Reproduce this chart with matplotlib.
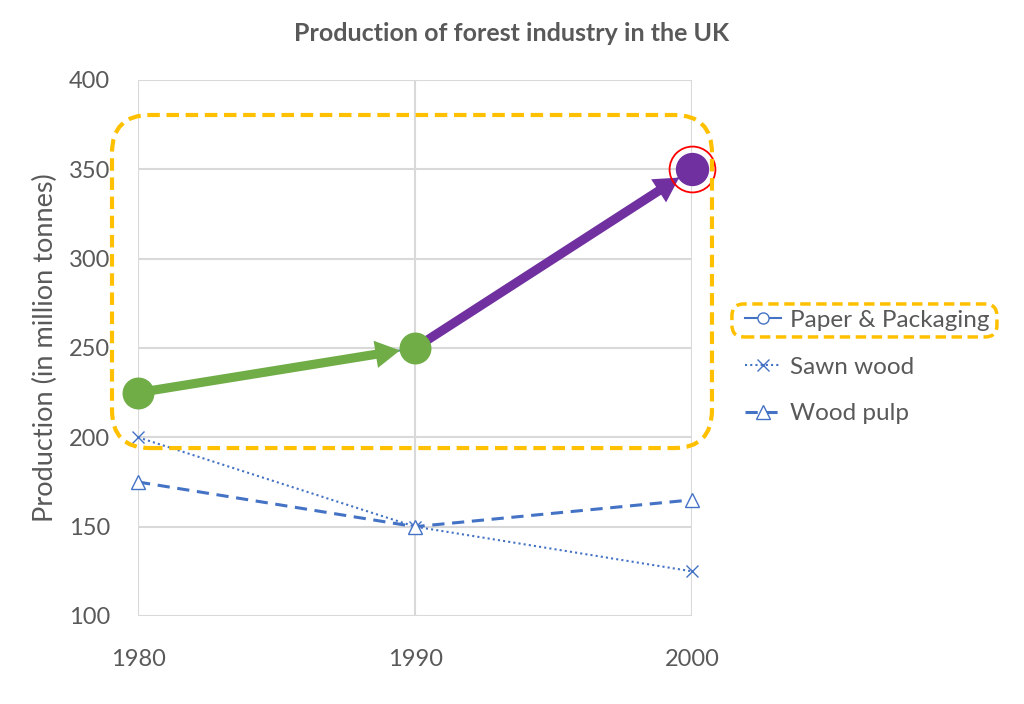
import matplotlib.pyplot as plt
from matplotlib.patches import FancyBboxPatch, FancyArrowPatch
from matplotlib.transforms import IdentityTransform

plt.rcParams['font.family'] = ['Lato', 'DejaVu Sans']

years = [1980, 1990, 2000]
paper = [225, 250, 350]
sawn = [200, 150, 125]
pulp = [175, 150, 165]
labels = ['Paper & Packaging', 'Sawn wood', 'Wood pulp']

blue = '#4472C4'
green = '#70AD47'
purple = '#7030A0'
gold = '#FFC000'
gray = '#595959'

fig = plt.figure(figsize=(10.24, 7.04), dpi=100)
ax = fig.add_axes([0.1348, 0.125, 0.541, 0.7614])

ax.plot(years, paper, color=blue, lw=1.5, marker='o', ms=8, mfc='white', mec=blue,
        label=labels[0], clip_on=False)
ax.plot(years, sawn, color=blue, lw=1.5, ls=(0, (1, 1.5)), marker='x', ms=9,
        label=labels[1], clip_on=False)
ax.plot(years, pulp, color=blue, lw=2.2, ls=(0, (4, 2.5)), marker='^', ms=10, mfc='white', mec=blue,
        markeredgewidth=1, label=labels[2], clip_on=False)

ax.set_xlim(1980, 2000)
ax.set_ylim(100, 400)
ax.set_xticks(years)
ax.set_yticks(range(100, 401, 50))
ax.grid(True, color='#D9D9D9', lw=1.5)
ax.set_axisbelow(True)
for s in ax.spines.values():
    s.set_visible(False)
ax.tick_params(length=0, labelsize=17, labelcolor=gray)
ax.tick_params(axis='x', pad=24)
ax.tick_params(axis='y', pad=20)
ax.set_ylabel('Production (in million tonnes)', fontsize=19.5, color=gray, labelpad=8)

fig.text(0.5, 0.953, 'Production of forest industry in the UK', ha='center', va='center',
         fontsize=18, fontweight='bold', color=gray)

# highlight arrows over paper & packaging
arrow_style = 'simple,head_length=0.8,head_width=0.9,tail_width=0.3'
for i, col in [(0, green), (1, purple)]:
    a = FancyArrowPatch((years[i], paper[i]), (years[i + 1], paper[i + 1]),
                        arrowstyle=arrow_style, mutation_scale=22, color=col, lw=0,
                        shrinkA=0, shrinkB=11, zorder=5, clip_on=False)
    ax.add_patch(a)
ax.plot(years[:2], paper[:2], ls='none', marker='o', ms=22, color=green, zorder=6, clip_on=False)
ax.plot(years[2:], paper[2:], ls='none', marker='o', ms=23, color=purple, zorder=6, clip_on=False)
ax.plot(years[2:], paper[2:], ls='none', marker='o', ms=33, mfc='none', mec='red', mew=1.3,
        zorder=7, clip_on=False)

leg = ax.legend(loc='center left', bbox_to_anchor=(0.728, 0.4787), bbox_transform=fig.transFigure,
                frameon=False, fontsize=17.5, labelcolor=gray, handlelength=1.45, handletextpad=0.4,
                labelspacing=1.05, borderpad=0, borderaxespad=0)

fig.canvas.draw()

# dashed box around the paper series in the plot
p0 = ax.transData.transform((1979.06, 194))
p1 = ax.transData.transform((2000.72, 380.4))
box = FancyBboxPatch((p0[0], p0[1]), p1[0] - p0[0], p1[1] - p0[1],
                     boxstyle='round,pad=0,rounding_size=38', transform=IdentityTransform(),
                     fill=False, ec=gold, lw=3, ls=(0, (3, 1.6)), zorder=8)
fig.patches.append(box)

# dashed box around first legend entry
r = fig.canvas.get_renderer()
tb = leg.get_texts()[0].get_window_extent(r)
hb = leg.legend_handles[0].get_window_extent(r)
x0 = hb.x0 - 8
x1 = tb.x1 + 7
y0 = tb.y0 - 6
y1 = tb.y1 + 6
lbox = FancyBboxPatch((x0, y0), x1 - x0, y1 - y0, boxstyle='round,pad=0,rounding_size=12',
                      transform=IdentityTransform(), fill=False, ec=gold, lw=2.5,
                      ls=(0, (3, 1.6)), zorder=8)
fig.patches.append(lbox)

fig.savefig('out.png', dpi=100)
